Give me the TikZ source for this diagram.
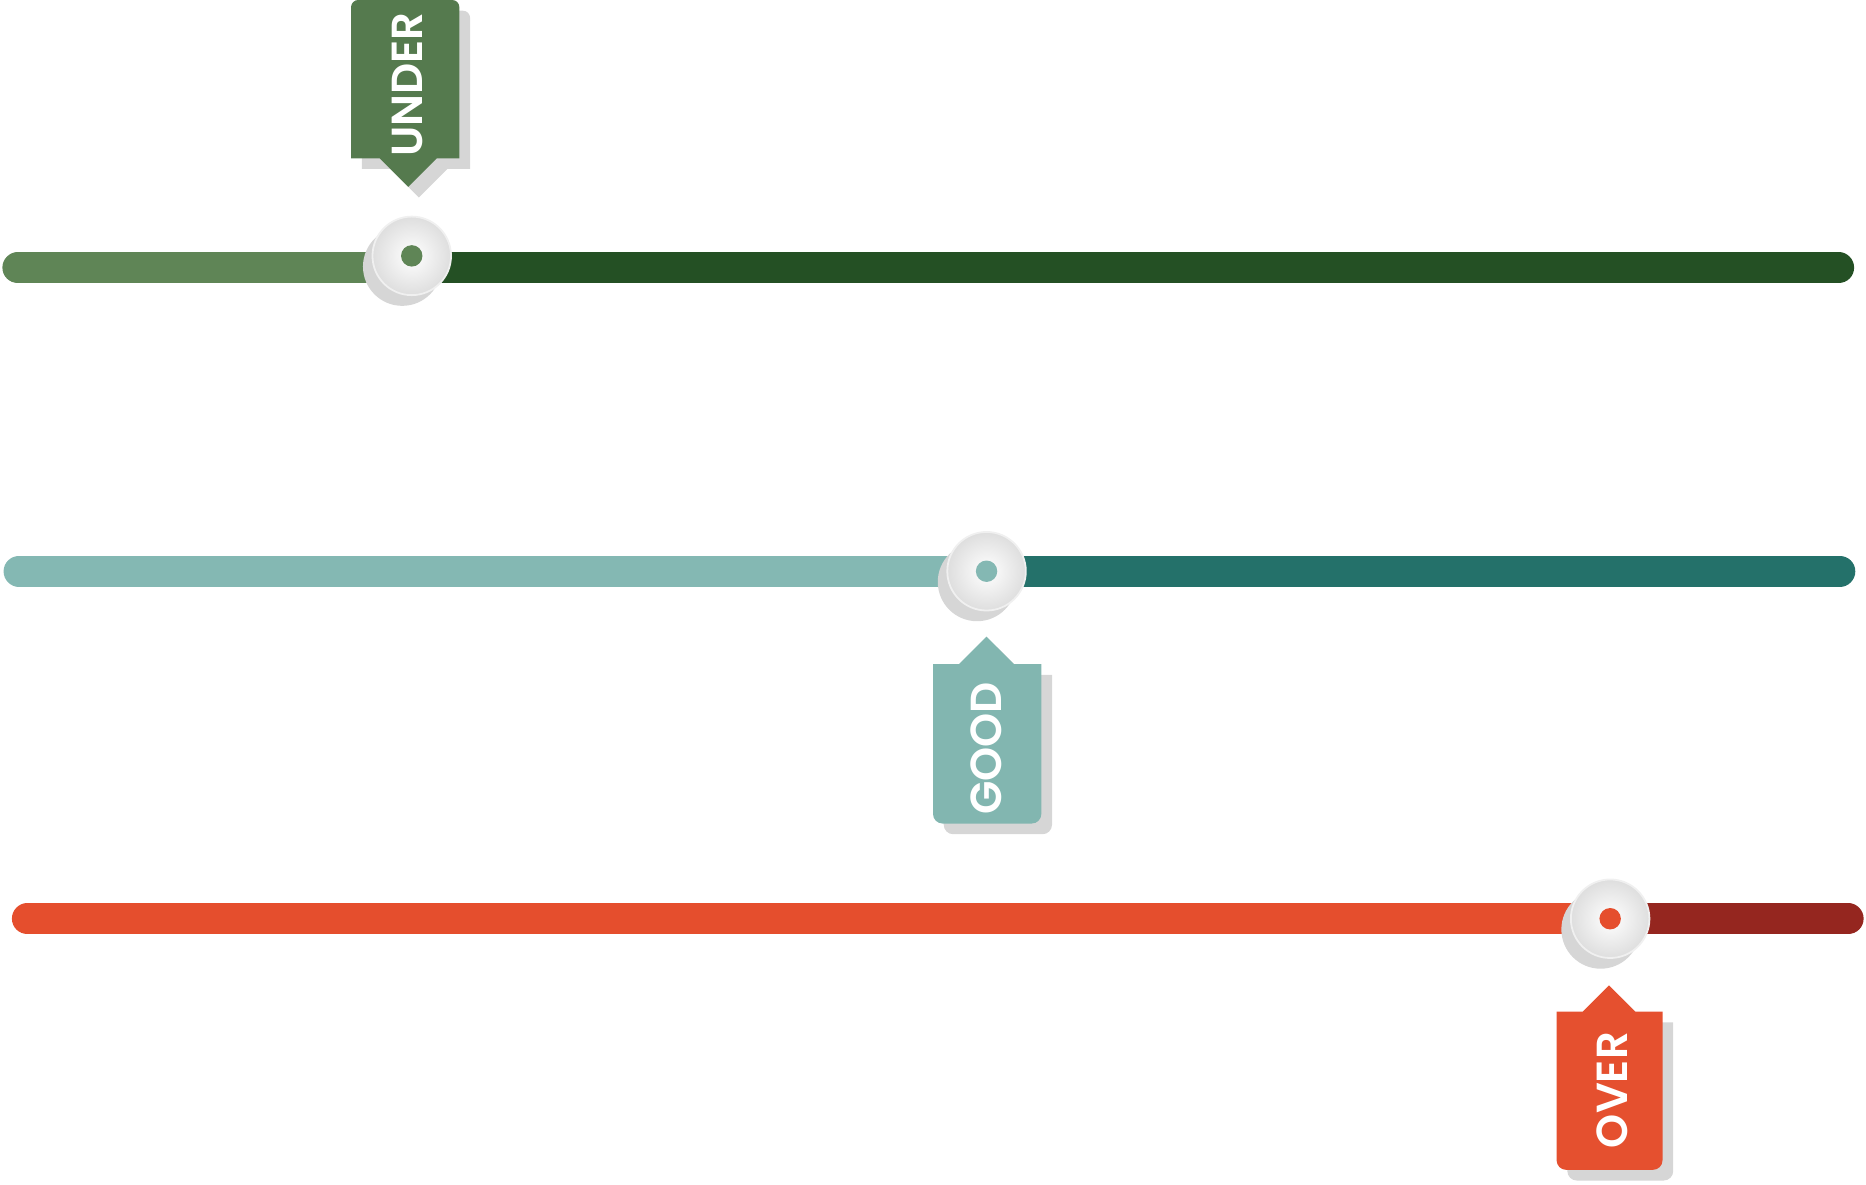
\documentclass[tikz,border=0pt]{standalone}
\usepackage{fontspec}
\setmainfont{Poppins}[BoldFont = {Poppins SemiBold}]
\usepackage{tikz}
\usetikzlibrary{calc}

\definecolor{underlight}{RGB}{95,133,86}
\definecolor{underdark}{RGB}{36,80,36}
\definecolor{undertag}{RGB}{85,122,78}
\definecolor{goodlight}{RGB}{132,184,179}
\definecolor{gooddark}{RGB}{36,113,106}
\definecolor{goodtag}{RGB}{130,182,176}
\definecolor{overlight}{RGB}{229,78,45}
\definecolor{overdark}{RGB}{149,38,31}
\definecolor{overtag}{RGB}{229,80,47}
\definecolor{shadowgray}{RGB}{214,214,214}
\definecolor{knobgray}{RGB}{222,222,222}

\begin{document}
\begin{tikzpicture}[x=1pt, y=1pt,
    bar/.style = {line width = 26pt, line cap = round},
    tagshadow/.style = {fill = shadowgray, shift = {(9,-9)}},
    knobshadow/.style = {fill = shadowgray},
    knob/.style = {inner color = white, outer color = knobgray, draw = white!94!black, line width = 1.5pt},
    tagtext/.style = {text = white, font = \fontsize{36.5}{36.5}\selectfont\bfseries, rotate = 90, inner sep = 0pt}]
    \useasboundingbox (0,-995) rectangle (1568,0);

    \coordinate (underknob) at (346,-215);
    \coordinate (goodknob) at (829,-480);
    \coordinate (overknob) at (1353,-772);

    % under
    \draw [bar, underdark] (340,-225) -- (1545,-225);
    \draw [bar, underlight] (15,-225) -- (340,-225);
    \fill [tagshadow] (295,-133) [rounded corners = 6pt] -- (295,0) -- (386,0) [sharp corners] -- (386,-133) -- (367,-133) -- (343,-157) -- (319,-133) -- cycle;
    \fill [undertag] (295,-133) [rounded corners = 6pt] -- (295,0) -- (386,0) [sharp corners] -- (386,-133) -- (367,-133) -- (343,-157) -- (319,-133) -- cycle;
    \node (under) at (342,-71) [tagtext] {UNDER};
    \fill [knobshadow] ($(underknob)+(-8,-9)$) circle (33pt);
    \path [knob] (underknob) circle (33pt);
    \fill [underlight] (underknob) circle (9pt);

    % good
    \draw [bar, gooddark] (829,-480) -- (1546,-480);
    \draw [bar, goodlight] (16,-480) -- (829,-480);
    \fill [tagshadow] (784,-558) -- (806,-558) -- (829,-535) -- (852,-558) -- (875,-558) [rounded corners = 8pt] -- (875,-692) -- (784,-692) [sharp corners] -- cycle;
    \fill [goodtag] (784,-558) -- (806,-558) -- (829,-535) -- (852,-558) -- (875,-558) [rounded corners = 8pt] -- (875,-692) -- (784,-692) [sharp corners] -- cycle;
    \node (good) at (829,-629) [tagtext] {GOOD};
    \fill [knobshadow] ($(goodknob)+(-8,-9)$) circle (33pt);
    \path [knob] (goodknob) circle (33pt);
    \fill [goodlight] (goodknob) circle (9pt);

    % over
    \draw [bar, overdark] (1353,-772) -- (1553,-772);
    \draw [bar, overlight] (23,-772) -- (1353,-772);
    \fill [tagshadow] (1308,-850) -- (1330,-850) -- (1352,-828) -- (1374,-850) -- (1397,-850) [rounded corners = 8pt] -- (1397,-983) -- (1308,-983) [sharp corners] -- cycle;
    \fill [overtag] (1308,-850) -- (1330,-850) -- (1352,-828) -- (1374,-850) -- (1397,-850) [rounded corners = 8pt] -- (1397,-983) -- (1308,-983) [sharp corners] -- cycle;
    \node (over) at (1355,-916) [tagtext] {OVER};
    \fill [knobshadow] ($(overknob)+(-8,-9)$) circle (33pt);
    \path [knob] (overknob) circle (33pt);
    \fill [overlight] (overknob) circle (9pt);
\end{tikzpicture}
\end{document}
